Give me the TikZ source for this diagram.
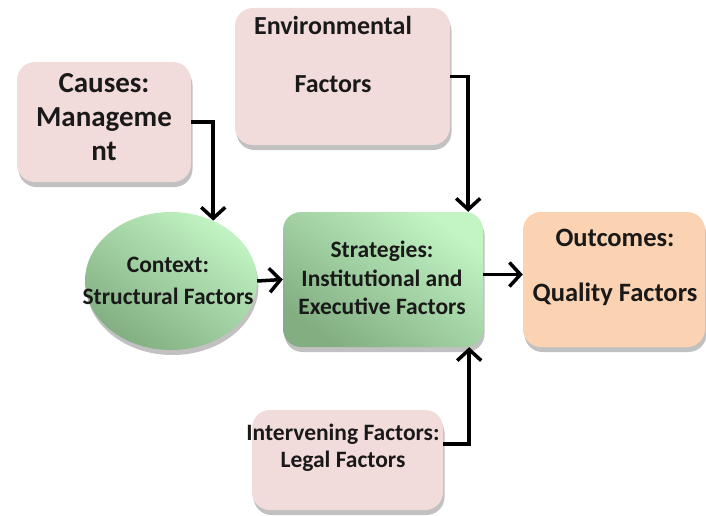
\documentclass[tikz,border=0pt]{standalone}
\usepackage{fontspec}
\setmainfont{Carlito}
\usetikzlibrary{shapes.geometric,shadows,arrows.meta}

\definecolor{boxpink}{HTML}{F2DCDB}
\definecolor{boxpeach}{HTML}{FBD3B2}
\definecolor{greenlight}{HTML}{C2F4C4}
\definecolor{greendark}{HTML}{82AE82}

\tikzset{
	box/.style={draw=none, drop shadow={shadow xshift=1.5pt, shadow yshift=-5pt, opacity=0.35, fill=black!70}},
	pinkbox/.style={box, rounded corners=18pt, fill=boxpink},
	peachbox/.style={box, rounded corners=18pt, fill=boxpeach},
	greenbox/.style={box, top color=greenlight, bottom color=greendark, shading angle=-35},
	boxtext/.style={align=center, inner sep=0pt, text=black!90}
}

\begin{document}
\begin{tikzpicture}[x=1pt,y=-1pt]
		\useasboundingbox (0,0) rectangle (706,516);
		
		% Kaesten zeichnen
		\node[pinkbox, minimum width=174pt, minimum height=120pt] (causes) at (104,122) {};
		\node[pinkbox, minimum width=215pt, minimum height=137pt] (env) at (342.5,76.5) {};
		\node[greenbox, ellipse, minimum width=172pt, minimum height=138pt] (context) at (171,281) {};
		\node[greenbox, rounded corners=18pt, minimum width=200pt, minimum height=135pt] (strategies) at (383,279.5) {};
		\node[peachbox, minimum width=182pt, minimum height=135pt] (outcomes) at (614,279.5) {};
		\node[pinkbox, minimum width=191pt, minimum height=100pt] (legal) at (347.5,460) {};
		
		% Beschriftungen eintragen
		\node[boxtext, font=\bfseries\fontsize{29}{34}\selectfont] (causes-text) at (104,117) {Causes:\\Manageme\\nt};
		\node[boxtext, font=\bfseries\fontsize{26}{32}\selectfont] (env-text) at (333,54) {Environmental\\[26pt]Factors};
		\node[boxtext, font=\bfseries\fontsize{23.5}{32}\selectfont] (context-text) at (168,281) {Context:\\Structural Factors};
		\node[boxtext, font=\bfseries\fontsize{23.5}{28.5}\selectfont] (strategies-text) at (382,278) {Strategies:\\Institutional and\\Executive Factors};
		\node[boxtext, font=\bfseries\fontsize{26.5}{32}\selectfont] (outcomes-text) at (615,267) {Outcomes:\\[23pt]Quality Factors};
		\node[boxtext, font=\bfseries\fontsize{23.5}{27}\selectfont] (legal-text) at (343,448) {Intervening Factors:\\Legal Factors};
		
		% Pfeile zeichnen
		\begin{scope}[>={Straight Barb[length=11pt,width=24pt]}, line width=3.5pt]
			\draw[->] (causes.east) -| (context.55);
			\draw[->] (env.east) -| ([xshift=-15pt]strategies.north east);
			\draw[->] ([yshift=16pt]legal.east) -| ([xshift=-14pt]strategies.south east);
			\draw[->] (context.east) -- (strategies.west);
			\draw[->] ([yshift=5pt]strategies.east) -- ([yshift=5pt]outcomes.west);
		\end{scope}
	\end{tikzpicture}
\end{document}
